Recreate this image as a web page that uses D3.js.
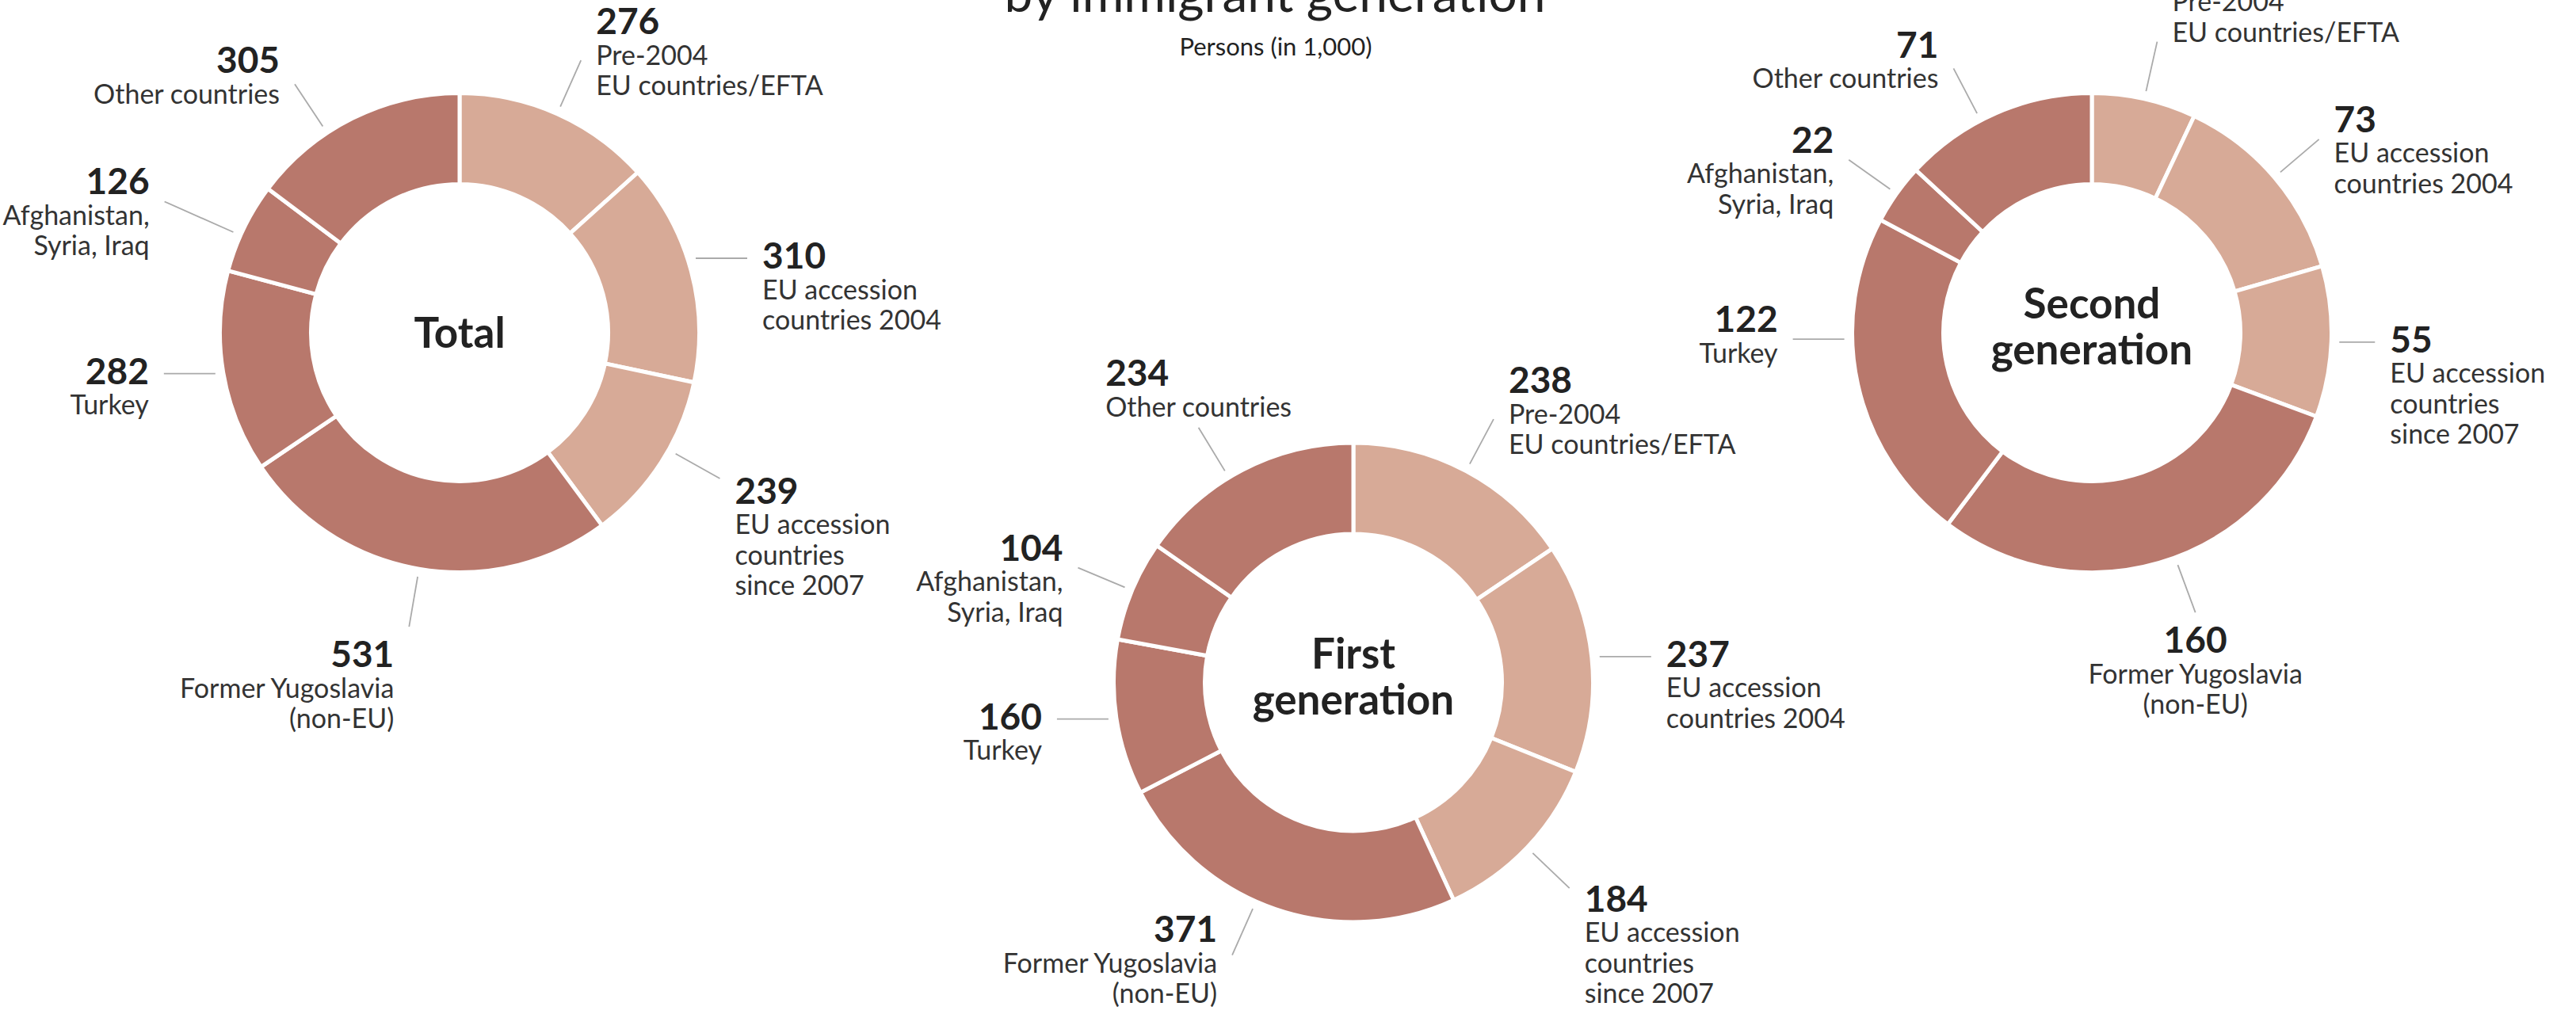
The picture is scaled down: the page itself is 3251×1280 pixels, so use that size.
<!DOCTYPE html>
<html>

<head>
    <meta charset='utf-8'>
    <title>Donuts by immigrant generation</title>
    <script type='text/javascript' src='https://cdn.jsdelivr.net/npm/d3@7/dist/d3.min.js'></script>
    <style>
        body { margin: 0; background: #fff; }
        text { font-family: Lato, 'Open Sans', sans-serif; }
    </style>
</head>

<body>
    <svg width='3251px' height='1280px'></svg>
    <script type='text/javascript'>

        // data
        const categories = ['Pre-2004\nEU countries/EFTA', 'EU accession\ncountries 2004', 'EU accession\ncountries\nsince 2007',
            'Former Yugoslavia\n(non-EU)', 'Turkey', 'Afghanistan,\nSyria, Iraq', 'Other countries']
        const colorGroups = ['EU', 'EU', 'EU', 'nonEU', 'nonEU', 'nonEU', 'nonEU']
        const totalValues = [276, 310, 239, 531, 282, 126, 305]
        const firstGenValues = [238, 237, 184, 371, 160, 104, 234]
        const secondGenValues = [38, 73, 55, 160, 122, 22, 71]
        const chartNames = ['Total', 'First\ngeneration', 'Second\ngeneration']
        const titleText = 'by immigrant generation'
        const subtitleText = 'Persons (in 1,000)'

        const svg = d3.select('svg')
        const width = parseInt(svg.attr('width'))
        const height = parseInt(svg.attr('height'))

        const R = 302.5, r0 = 187.5
        const layout = [
            { cx: 580, cy: 420 },
            { cx: 1708, cy: 861.5 },
            { cx: 2640, cy: 420 }
        ]
        // label placement tweaks (angle nudge in degrees, leader length, mode)
        const tweaks = [
            { 1: { nudge: -2.5 }, 2: { nudge: -3.5 }, 5: { nudge: -2, len: 95 }, 6: { nudge: -7 } },
            { 3: { nudge: 5 }, 6: { nudge: -3.7, mode: 'aboveCenter' } },
            { 2: { len: 45 }, 3: { nudge: -4, align: 'middle' }, 4: { nudge: 11, dy: -22 }, 6: { nudge: -4 } }
        ]

        const color = d3.scaleOrdinal().domain(['EU', 'nonEU']).range(['#d7aa97', '#b8786c'])
        const pie = d3.pie().sort(null).value(d => d)
        const arc = d3.arc().innerRadius(r0).outerRadius(R)

        // title
        svg.append('text')
            .attr('x', 1609).attr('y', 15)
            .attr('text-anchor', 'middle')
            .style('font-size', '64px').style('fill', '#222')
            .text(titleText)
        svg.append('text')
            .attr('x', 1610).attr('y', 70)
            .attr('text-anchor', 'middle')
            .style('font-size', '31px').style('fill', '#222')
            .text(subtitleText)

        const numSize = 46, lblSize = 34, lineH = 38.5, capH = 31

        function renderDonut(values, idx) {
            const { cx, cy } = layout[idx]
            const g = svg.append('g').attr('transform', `translate(${cx}, ${cy})`)
            const arcs = pie(values)

            g.selectAll('path').data(arcs).enter().append('path')
                .attr('d', arc)
                .style('fill', (d, i) => color(colorGroups[i]))
                .style('stroke', '#fff')
                .style('stroke-width', 5)

            // center title
            const nameLines = chartNames[idx].split('\n')
            const nameY = nameLines.length === 1 ? [19] : [-18, 40]
            nameLines.forEach((t, k) => {
                g.append('text')
                    .attr('x', 0).attr('y', nameY[k])
                    .attr('text-anchor', 'middle')
                    .style('font-size', '53px').style('font-weight', 700).style('fill', '#222')
                    .text(t)
            })

            arcs.forEach((d, i) => {
                const tw = tweaks[idx][i] || {}
                const a = (d.startAngle + d.endAngle) / 2 + (tw.nudge || 0) * Math.PI / 180
                const s = Math.sin(a), c = Math.cos(a)
                const side = s >= 0 ? 1 : -1
                const start = [(R + 10) * s, -(R + 10) * c]
                const lines = categories[i].split('\n')
                const n = lines.length
                let end, x, anchor = side > 0 ? 'start' : 'end', numBase

                if (Math.abs(s) > 0.94) {
                    end = [start[0] + side * (tw.len || 65), start[1]]
                    x = end[0] + side * 19
                    numBase = end[1] + 13 + (tw.dy || 0)
                } else {
                    const re = R + 10 + (tw.len || 64)
                    end = [re * s, -re * c]
                    x = end[0] + side * 19
                    if (tw.mode === 'aboveCenter') {
                        numBase = end[1] - 14 - lineH * n
                    } else if (c > 0 && Math.abs(s) < 0.3) {
                        numBase = end[1] - lineH * n
                    } else if (c > 0) {
                        const mid = end[1] + (c > 0.75 ? -10 : 14)
                        numBase = mid + capH - (lineH * n + capH) / 2
                    } else {
                        numBase = end[1] + (Math.abs(s) < 0.4 ? 20 : 1) + capH
                        // keep the block inside the picture
                        const maxBase = height - cy - 14 - lineH * n
                        numBase = Math.min(numBase, maxBase)
                    }
                    if (tw.align === 'middle') { x = end[0]; anchor = 'middle' }
                }

                g.append('line')
                    .attr('x1', start[0]).attr('y1', start[1])
                    .attr('x2', end[0]).attr('y2', end[1])
                    .style('stroke', '#aaa').style('stroke-width', 1.8)

                const lg = g.append('g')
                lg.append('text')
                    .attr('x', x).attr('y', numBase)
                    .attr('text-anchor', anchor)
                    .style('font-size', numSize + 'px').style('font-weight', 700).style('fill', '#222')
                    .text(values[i])
                lines.forEach((t, k) => {
                    lg.append('text')
                        .attr('x', x).attr('y', numBase + lineH * (k + 1))
                        .attr('text-anchor', anchor)
                        .style('font-size', lblSize + 'px').style('fill', '#333')
                        .text(t)
                })
                if (tw.mode === 'aboveCenter') {
                    // left-aligned block, centred over the leader end
                    const w = lg.node().getBBox().width
                    lg.selectAll('text').attr('text-anchor', 'start').attr('x', end[0] - w / 2)
                }
            })
        }

        renderDonut(totalValues, 0)
        renderDonut(firstGenValues, 1)
        renderDonut(secondGenValues, 2)
    </script>
</body>

</html>
